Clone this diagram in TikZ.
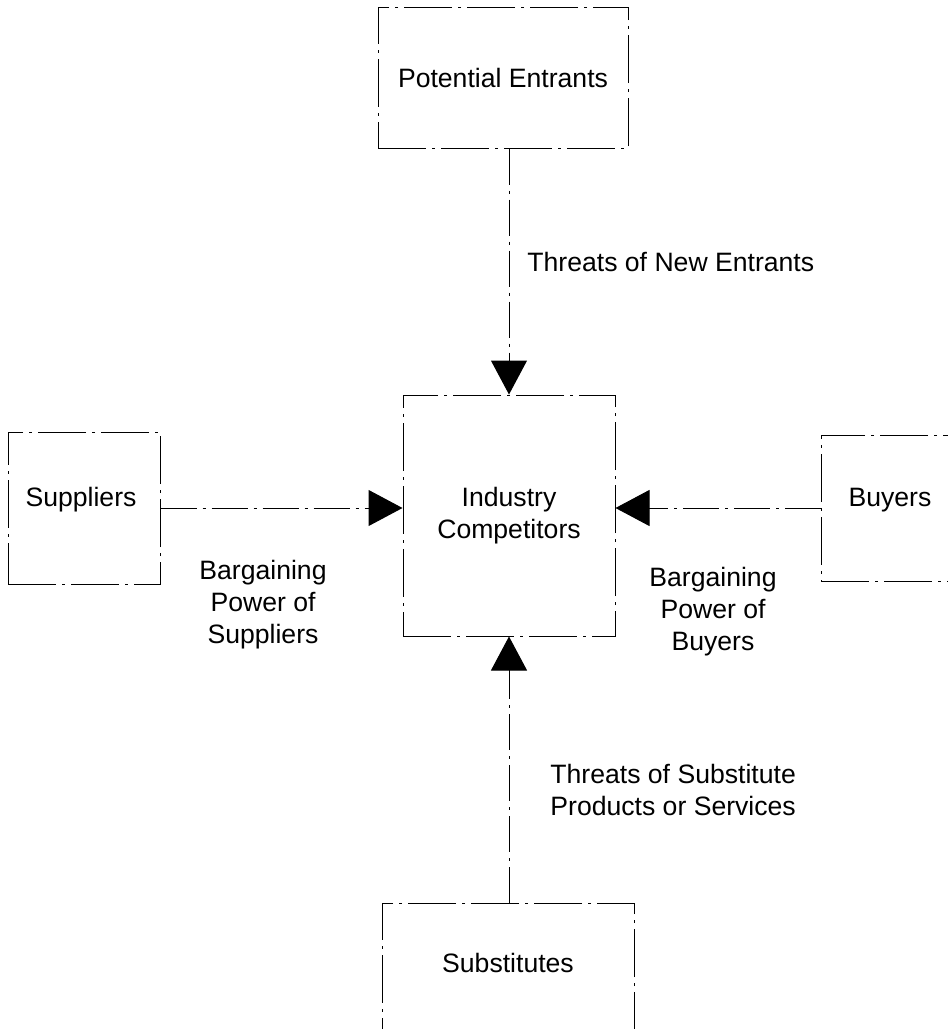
\documentclass[tikz,border=0pt]{standalone}
\usepackage{fontspec}
\setmainfont{Liberation Sans}
\usetikzlibrary{arrows.meta}
\begin{document}
\begin{tikzpicture}[x=0.5pt,y=-0.5pt,
  box/.style={draw, line width=0.5pt, dash pattern=on 24pt off 3pt on 1.5pt off 3pt, inner sep=0pt, font=\fontsize{13.3}{16}\selectfont, align=center},
  lbl/.style={font=\fontsize{13.3}{16}\selectfont, inner sep=0pt},
  force/.style={line width=0.5pt, dash pattern=on 18pt off 3pt on 1.5pt off 3pt, -{Triangle[length=17pt,width=18pt]}}]
\useasboundingbox (0,0) rectangle (948,1029);
\clip (0,0) rectangle (948,1029);
\node[box, minimum width=125pt, minimum height=70.5pt] (pe) at (503,77.5) {Potential Entrants};
\node[box, minimum width=106pt, minimum height=120.5pt] (ic) at (509,515.5) {Industry\\Competitors};
\node[box, minimum width=76pt, minimum height=76pt] (sup) at (84,508) {};
\node[lbl] (supt) at (81,500) {Suppliers};
\node[box, minimum width=69pt, minimum height=73pt] (buy) at (890,508) {};
\node[lbl] (buyt) at (890,500) {Buyers};
\node[box, minimum width=126pt, minimum height=68.5pt] (sub) at (508,971.5) {};
\node[lbl] (subt) at (508,963) {Substitutes};
\draw[force] (pe.south -| ic.north) -- (ic.north);
\draw[force] (sub.north -| ic.south) -- (ic.south);
\draw[force] (sup.east) -- (sup.east -| ic.west);
\draw[force] (buy.west) -- (buy.west -| ic.east);
\node[lbl, anchor=west] (tne) at (527,262) {Threats of New Entrants};
\node[lbl, align=center] (bps) at (263,605) {Bargaining\\Power of\\Suppliers};
\node[lbl, align=center] (bpb) at (713,612) {Bargaining\\Power of\\Buyers};
\node[lbl, anchor=west, align=left] (tss) at (550,790) {Threats of Substitute\\Products or Services};
\end{tikzpicture}
\end{document}
